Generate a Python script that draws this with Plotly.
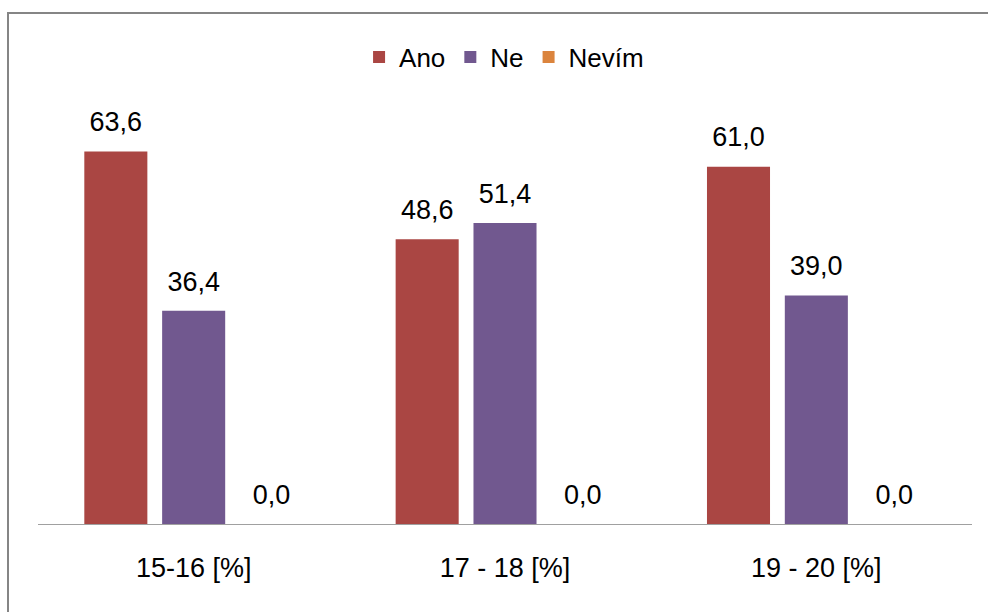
import plotly.graph_objects as go

# Survey answers by age group (percent)
categories = ["15-16 [%]", "17 - 18 [%]", "19 - 20 [%]"]
ano = [63.6, 48.6, 61.0]
ne = [36.4, 51.4, 39.0]
nevim = [0.0, 0.0, 0.0]

series = [
    ("Ano", ano, "#AA4643"),
    ("Ne", ne, "#71588F"),
    ("Nevím", nevim, "#DB843D"),
]

FONT = "Liberation Sans, Arial, sans-serif"

fig = go.Figure()
for name, values, color in series:
    fig.add_trace(go.Bar(
        name=name,
        x=categories,
        y=values,
        marker=dict(color=color, line=dict(width=0)),
        cliponaxis=False,
    ))

# value labels, grouped the same way as the bars and lifted a little above them
for name, values, color in series:
    fig.add_trace(go.Scatter(
        x=categories,
        y=values,
        mode="markers+text",
        marker=dict(size=20, opacity=0, color=color),
        texttemplate="%{y:.1f}",
        textposition="top center",
        textfont=dict(family=FONT, size=27, color="#000000"),
        showlegend=False,
        hoverinfo="skip",
        cliponaxis=False,
    ))

fig.update_layout(
    width=988,
    height=612,
    margin=dict(l=38, r=16, t=114, b=88),
    paper_bgcolor="white",
    plot_bgcolor="white",
    barmode="group",
    bargap=0.25,
    bargroupgap=0.19,
    scattermode="group",
    scattergap=0.25,
    separators=", ",
    font=dict(family=FONT, size=27, color="#000000"),
    showlegend=True,
    legend=dict(
        orientation="h",
        x=0.499, xanchor="center",
        y=1.139, yanchor="middle",
        font=dict(family=FONT, size=26, color="#000000"),
        itemwidth=30,
        bgcolor="rgba(0,0,0,0)",
    ),
    xaxis=dict(
        showline=True,
        linecolor="#A0A0A0",
        linewidth=1,
        ticks="outside",
        ticklen=20,
        tickcolor="rgba(0,0,0,0)",
        tickfont=dict(family=FONT, size=27, color="#000000"),
        showgrid=False,
        zeroline=False,
    ),
    yaxis=dict(
        range=[0, 70],
        visible=False,
        showgrid=False,
        zeroline=False,
    ),
    shapes=[
        # outer chart frame (right and bottom edges fall outside the page)
        dict(
            type="rect",
            xref="paper", yref="paper",
            x0=(8 - 38) / 934, x1=(1000 - 38) / 934,
            y0=(524 - 630) / 410, y1=(524 - 13) / 410,
            line=dict(color="#858585", width=2),
            fillcolor="rgba(0,0,0,0)",
            layer="below",
        )
    ],
)

fig.write_html("out.html")
